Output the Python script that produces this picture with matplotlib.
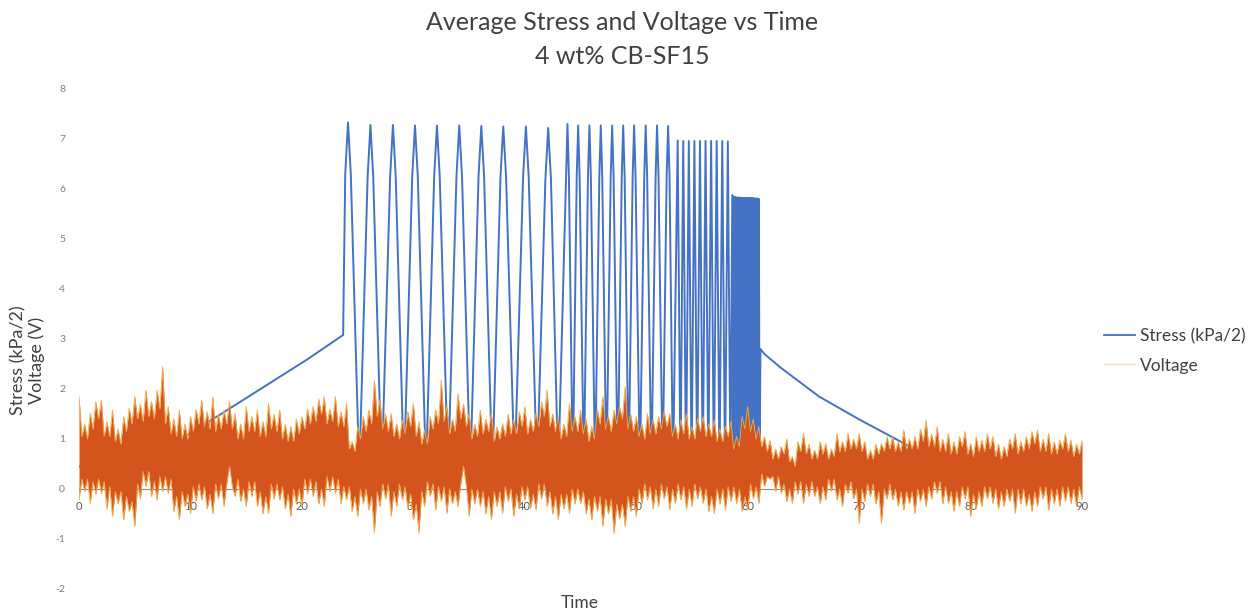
import matplotlib
matplotlib.use('Agg')
import matplotlib.pyplot as plt
from matplotlib.lines import Line2D
import numpy as np

plt.rcParams['font.family'] = ['Lato', 'DejaVu Sans']

# voltage noise band every 0.25 s (top and bottom of the hairs)
volt_time = np.arange(0, 90.01, 0.25)
volt_upper = [
    1.85, 1.05, 1.30, 1.00, 1.52, 1.20, 1.75, 1.40, 1.78, 1.05, 1.35, 1.05, 1.58, 0.95, 1.20, 0.90, 1.45, 1.15, 1.62, 1.30,
    1.85, 1.40, 1.70, 1.35, 1.98, 1.45, 1.75, 1.40, 1.98, 1.60, 2.45, 1.30, 1.65, 1.10, 1.40, 1.05, 1.58, 1.00, 1.30, 1.00,
    1.45, 1.15, 1.60, 1.30, 1.78, 1.25, 1.55, 1.20, 1.85, 1.15, 1.50, 1.20, 1.58, 1.30, 1.75, 1.20, 1.51, 1.00, 1.30, 1.00,
    1.65, 1.15, 1.45, 1.15, 1.58, 1.05, 1.35, 1.05, 1.71, 1.20, 1.50, 1.15, 1.58, 1.00, 1.30, 0.95, 1.25, 0.95, 1.40, 1.10,
    1.45, 1.20, 1.60, 1.30, 1.65, 1.35, 1.80, 1.50, 1.85, 1.30, 1.60, 1.35, 1.85, 1.25, 1.55, 1.25, 1.71, 0.80, 0.95, 0.75,
    1.25, 1.00, 1.45, 1.15, 1.58, 1.30, 2.18, 1.45, 1.78, 1.20, 1.50, 1.15, 1.51, 1.05, 1.30, 1.00, 1.38, 1.10, 1.55, 1.25,
    1.71, 1.05, 1.35, 0.90, 1.18, 0.90, 1.45, 1.20, 1.58, 1.30, 2.18, 1.35, 1.65, 1.10, 1.40, 1.15, 1.91, 1.40, 1.70, 1.25,
    1.51, 1.00, 1.30, 1.05, 1.58, 1.10, 1.40, 1.15, 1.51, 0.95, 1.25, 1.00, 1.31, 1.05, 1.50, 1.10, 1.38, 1.10, 1.55, 1.25,
    1.65, 1.10, 1.40, 1.15, 1.51, 1.25, 1.75, 1.45, 1.98, 1.25, 1.50, 1.15, 1.45, 1.00, 1.30, 1.05, 1.71, 1.15, 1.45, 1.15,
    1.58, 1.10, 1.40, 0.95, 1.25, 1.00, 1.60, 1.30, 1.85, 1.20, 1.45, 1.15, 1.58, 1.30, 1.65, 1.40, 2.05, 1.20, 1.50, 1.15,
    1.45, 1.05, 1.30, 1.00, 1.51, 1.10, 1.40, 1.10, 1.45, 1.20, 1.55, 1.25, 1.51, 1.05, 1.30, 1.00, 1.38, 1.10, 1.50, 1.00,
    1.25, 1.00, 1.40, 1.15, 1.45, 1.05, 1.30, 1.05, 1.38, 0.95, 1.20, 0.95, 1.25, 1.05, 1.35, 0.80, 1.05, 0.85, 1.45, 1.20,
    1.65, 1.15, 1.40, 1.00, 1.25, 0.85, 1.05, 0.75, 0.98, 0.60, 0.80, 0.60, 0.85, 0.70, 1.00, 0.55, 0.65, 0.45, 0.95, 0.75,
    1.11, 0.70, 0.90, 0.60, 0.78, 0.60, 0.95, 0.70, 0.91, 0.60, 0.80, 0.65, 1.11, 0.75, 0.95, 0.75, 1.11, 0.80, 1.00, 0.80,
    1.11, 0.75, 0.95, 0.60, 0.78, 0.60, 0.90, 0.70, 0.91, 0.75, 1.05, 0.80, 1.05, 0.75, 0.95, 0.75, 1.18, 0.80, 1.00, 0.80,
    1.05, 0.80, 1.20, 0.95, 1.38, 0.85, 1.10, 0.85, 1.25, 0.75, 1.00, 0.75, 1.11, 0.70, 0.95, 0.70, 1.05, 0.85, 1.15, 0.70,
    0.91, 0.65, 1.05, 0.75, 0.98, 0.75, 1.10, 0.80, 1.05, 0.65, 0.90, 0.60, 0.85, 0.65, 1.00, 0.80, 1.11, 0.70, 0.95, 0.75,
    1.05, 0.80, 1.15, 0.90, 1.18, 0.75, 1.00, 0.75, 1.11, 0.70, 0.95, 0.70, 0.98, 0.80, 1.10, 0.75, 0.98, 0.65, 0.90, 0.70,
    0.98,
]
volt_lower = [
    -0.22, 0.20, -0.05, 0.20, -0.29, 0.15, -0.10, 0.20, -0.09, 0.15, -0.40, 0.05, -0.55, -0.05, -0.30, -0.05, -0.62, -0.15, -0.45, -0.25,
    -0.75, 0.10, -0.20, 0.35, 0.05, 0.35, -0.15, 0.15, -0.22, 0.25, -0.05, 0.25, -0.09, 0.20, -0.45, -0.15, -0.62, -0.05, -0.35, -0.10,
    -0.49, 0.05, -0.25, 0.10, -0.22, 0.05, -0.40, -0.10, -0.49, 0.10, -0.20, 0.10, -0.35, 0.10, 0.45, 0.05, -0.15, 0.20, -0.25, 0.00,
    -0.35, 0.15, -0.15, 0.15, -0.35, -0.05, -0.50, -0.15, -0.49, 0.10, -0.20, 0.10, -0.22, 0.05, -0.40, -0.10, -0.55, 0.00, -0.30, 0.00,
    -0.35, 0.20, -0.10, 0.20, -0.15, 0.15, -0.30, 0.00, -0.35, 0.25, -0.05, 0.25, -0.09, 0.20, -0.30, 0.05, -0.22, 0.05, -0.45, -0.15,
    -0.55, 0.00, -0.30, 0.00, -0.42, -0.15, -0.88, -0.05, -0.35, 0.10, -0.20, 0.10, -0.55, -0.05, -0.35, 0.10, -0.22, 0.05, -0.40, -0.10,
    -0.62, -0.30, -0.88, -0.05, -0.35, 0.15, -0.15, 0.10, -0.42, 0.05, -0.25, 0.05, -0.49, 0.00, -0.30, -0.05, -0.35, 0.10, 0.45, 0.05,
    -0.55, 0.00, -0.30, 0.00, -0.35, -0.05, -0.50, -0.15, -0.62, -0.05, -0.35, -0.05, -0.49, 0.05, -0.25, 0.00, -0.55, -0.10, -0.40, 0.05,
    -0.22, 0.05, -0.40, -0.10, -0.42, 0.10, -0.20, 0.10, -0.35, -0.05, -0.50, -0.15, -0.62, -0.10, -0.40, -0.10, -0.49, 0.00, -0.30, 0.00,
    -0.29, -0.05, -0.50, -0.20, -0.62, -0.15, -0.45, -0.15, -0.75, -0.20, -0.50, -0.20, -0.89, -0.30, -0.60, -0.30, -0.75, -0.15, -0.45, -0.15,
    -0.55, 0.00, -0.30, 0.10, -0.22, 0.05, -0.40, 0.00, -0.35, 0.10, -0.20, 0.05, -0.42, 0.00, -0.30, 0.10, -0.22, 0.05, -0.40, 0.00,
    -0.35, 0.10, -0.20, 0.05, -0.29, 0.00, -0.45, -0.15, -0.49, 0.00, -0.30, 0.00, -0.42, 0.05, -0.25, 0.05, -0.29, 0.00, -0.45, -0.15,
    -0.42, 0.10, -0.20, 0.05, -0.29, 0.30, 0.05, 0.25, 0.20, 0.25, -0.05, 0.25, -0.09, 0.10, -0.25, 0.00, -0.29, 0.15, -0.10, 0.15,
    -0.29, 0.10, -0.15, 0.15, -0.15, 0.05, -0.30, 0.05, -0.22, 0.20, -0.05, 0.20, -0.22, 0.00, -0.35, 0.10, -0.09, 0.15, -0.20, 0.00,
    -0.69, 0.00, -0.25, 0.10, -0.15, 0.10, -0.30, -0.05, -0.69, 0.00, -0.20, 0.10, -0.22, 0.00, -0.35, -0.05, -0.42, -0.05, -0.30, -0.05,
    -0.49, 0.00, -0.25, 0.00, -0.35, 0.05, -0.20, 0.15, -0.09, 0.15, -0.30, 0.05, -0.29, -0.05, -0.45, -0.05, -0.35, 0.05, -0.20, 0.05,
    -0.55, -0.10, -0.40, -0.05, -0.35, 0.05, -0.20, 0.05, -0.29, 0.00, -0.40, -0.05, -0.35, 0.00, -0.25, 0.00, -0.49, 0.00, -0.30, 0.00,
    -0.35, -0.10, -0.45, -0.05, -0.35, 0.05, -0.20, 0.05, -0.42, 0.00, -0.30, 0.00, -0.35, 0.05, -0.25, 0.05, -0.29, 0.00, -0.35, 0.05,
    -0.22,
]

# stress: ramp, four groups of loading cycles, then the slow decay
stress_time = [
    0.0, 5.5, 12.6, 20.4, 23.7,
    23.89, 24.14, 24.39, 25.15,
    25.90, 26.15, 26.40, 27.16,
    27.92, 28.17, 28.42, 29.16,
    29.90, 30.15, 30.40, 31.14,
    31.87, 32.12, 32.37, 33.12,
    33.87, 34.12, 34.37, 35.11,
    35.85, 36.10, 36.35, 37.09,
    37.82, 38.07, 38.32, 39.09,
    39.85, 40.10, 40.35, 41.10,
    41.85, 42.10, 42.35, 43.00,
    43.70, 43.83, 43.96, 44.31,
    44.66, 44.79, 44.92, 45.30,
    45.67, 45.80, 45.93, 46.31,
    46.69, 46.82, 46.95, 47.33,
    47.71, 47.84, 47.97, 48.34,
    48.70, 48.83, 48.96, 49.32,
    49.68, 49.81, 49.94, 50.33,
    50.72, 50.85, 50.98, 51.36,
    51.74, 51.87, 52.00, 52.37,
    52.73, 52.86, 52.99, 53.30,
    53.72, 53.97, 54.22, 54.47, 54.72, 54.97, 55.22, 55.47, 55.72, 55.97,
    56.22, 56.47, 56.72, 56.97, 57.22, 57.47, 57.72, 57.97, 58.22, 58.45,
    58.62, 58.68, 58.75, 58.81, 58.87, 58.93, 59.00, 59.06, 59.12, 59.18,
    59.25, 59.31, 59.37, 59.43, 59.50, 59.56, 59.62, 59.68, 59.75, 59.81,
    59.87, 59.93, 60.00, 60.06, 60.12, 60.18, 60.25, 60.31, 60.37, 60.43,
    60.50, 60.56, 60.62, 60.68, 60.75, 60.81, 60.87, 60.93, 61.00, 61.07,
    61.15, 61.5, 63.0, 66.4, 70.1, 74.8, 78.0,
]
stress_value = [
    0.45, 0.50, 1.48, 2.58, 3.08,
    6.30, 7.33, 6.30, 0.30,
    6.25, 7.28, 6.25, 0.30,
    6.25, 7.28, 6.25, 0.30,
    6.25, 7.27, 6.25, 0.30,
    6.25, 7.27, 6.25, 0.30,
    6.25, 7.27, 6.25, 0.30,
    6.25, 7.26, 6.25, 0.30,
    6.25, 7.25, 6.25, 0.30,
    6.25, 7.25, 6.25, 0.30,
    6.20, 7.22, 6.20, 0.30,
    6.25, 7.30, 6.25, 0.30,
    6.25, 7.27, 6.25, 0.30,
    6.25, 7.27, 6.25, 0.30,
    6.25, 7.27, 6.25, 0.30,
    6.25, 7.27, 6.25, 0.30,
    6.25, 7.27, 6.25, 0.30,
    6.25, 7.27, 6.25, 0.30,
    6.25, 7.27, 6.25, 0.30,
    6.25, 7.27, 6.25, 0.30,
    6.25, 7.26, 6.25, 0.30,
    6.97, 0.30, 6.96, 0.30, 6.96, 0.30, 6.96, 0.30, 6.96, 0.30,
    6.96, 0.30, 6.96, 0.30, 6.96, 0.30, 6.96, 0.30, 6.95, 0.40,
    5.88, 0.40, 5.85, 0.40, 5.84, 0.40, 5.83, 0.40, 5.83, 0.40,
    5.83, 0.40, 5.82, 0.40, 5.82, 0.40, 5.82, 0.40, 5.82, 0.40,
    5.82, 0.40, 5.82, 0.40, 5.82, 0.40, 5.82, 0.40, 5.82, 0.40,
    5.82, 0.40, 5.81, 0.40, 5.81, 0.40, 5.81, 0.40, 5.80, 0.50,
    2.80, 2.70, 2.42, 1.85, 1.38, 0.82, 0.50,
]

x_ticks = list(range(0, 91, 10))
y_ticks = list(range(-2, 9))

blue = '#4472C4'
orange = '#D4541E'
fringe = '#F2AC45'

fig = plt.figure(figsize=(12.6, 6.13), dpi=100)
ax = fig.add_axes([79 / 1260, 1 - 589 / 613, (1082 - 79) / 1260, 500 / 613])

ax.axhline(0, color='#8c8c8c', lw=0.8, zorder=1)
ax.plot(stress_time, stress_value, color=blue, lw=1.4, zorder=2,
        solid_joinstyle='round')
ax.fill_between(volt_time, volt_lower, volt_upper, color=orange, lw=0, zorder=2.3)
ax.plot(volt_time, volt_upper, color=fringe, lw=0.6, zorder=2.35)
ax.plot(volt_time, volt_lower, color=fringe, lw=0.6, zorder=2.35)

ax.set_xlim(0, 90)
ax.set_ylim(-2, 8)
ax.set_xticks(x_ticks)
ax.set_yticks(y_ticks)
ax.set_xticklabels([str(v) for v in x_ticks])
ax.set_yticklabels([str(v) for v in y_ticks])
for s in ax.spines.values():
    s.set_visible(False)
ax.spines['bottom'].set_position(('data', 0))
ax.tick_params(axis='x', length=0, pad=9, labelsize=8, labelcolor='#595959')
ax.tick_params(axis='y', length=0, pad=10, labelsize=7.5, labelcolor='#7f7f7f')
ax.set_facecolor('none')

fig.text(0.494, 1 - 23 / 613, 'Average Stress and Voltage vs Time', ha='center',
         va='center', fontsize=18, color='#404040')
fig.text(0.494, 1 - 56 / 613, '4 wt% CB-SF15', ha='center', va='center',
         fontsize=18, color='#404040')
fig.text(580 / 1260, 1 - 603 / 613, 'Time', ha='center', va='center',
         fontsize=12.5, color='#404040')
fig.text(28 / 1260, 1 - 360 / 613, 'Stress (kPa/2)\nVoltage (V)', ha='center',
         va='center', rotation=90, fontsize=13, color='#404040',
         multialignment='center', linespacing=1.15)

handles = [Line2D([], [], color=blue, lw=1.3),
           Line2D([], [], color='#F5DDA8', lw=1.0)]
fig.legend(handles, ['Stress (kPa/2)', 'Voltage'], loc='center left',
           bbox_to_anchor=(1088 / 1260, 1 - 351 / 613), frameon=False,
           fontsize=12.5, handlelength=1.8, handletextpad=0.3, labelspacing=0.75,
           labelcolor='#404040')

fig.savefig('out.png', dpi=100)
